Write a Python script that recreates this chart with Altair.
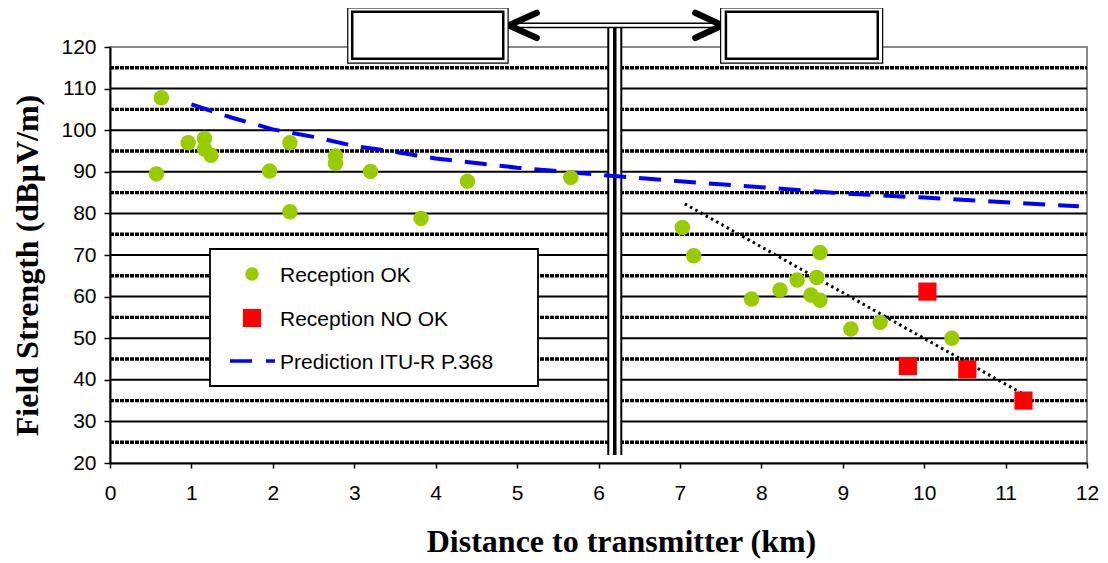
import altair as alt
import pandas as pd

# ---------------- data ----------------
ok_x = [0.57, 0.63, 0.96, 1.16, 1.16, 1.24, 1.96, 2.21, 2.21, 2.77, 2.77, 3.20, 3.82, 4.39, 5.66,
        7.03, 7.17, 7.88, 8.23, 8.44, 8.61, 8.68, 8.72, 8.72, 9.10, 9.46, 10.34]
ok_y = [89.5, 107.8, 97.0, 98.0, 95.5, 94.0, 90.2, 97.0, 80.4, 93.8, 92.0, 90.1, 78.8, 87.7, 88.6,
        76.6, 69.8, 59.4, 61.6, 64.0, 60.4, 64.6, 70.6, 59.1, 52.2, 53.8, 50.0]

nok_x = [9.80, 10.04, 10.53, 11.22]
nok_y = [43.3, 61.2, 42.5, 35.0]

pred_x = [1.0, 1.5, 2.0, 2.5, 3.0, 3.5, 4.0, 5.0, 6.0, 7.0, 8.0, 9.0, 10.0, 11.0, 11.9]
pred_y = [106.2, 103.0, 100.2, 98.4, 96.2, 94.8, 93.2, 91.0, 89.3, 87.7, 86.3, 84.8, 83.8, 82.7, 81.7]

trend_x = [7.06, 11.24]
trend_y = [82.3, 36.3]

y_ticks = [20, 30, 40, 50, 60, 70, 80, 90, 100, 110, 120]
x_ticks = list(range(0, 13))
grid_solid = [30, 40, 50, 60, 70, 80, 90, 100, 110]
grid_dotted = [25, 35, 45, 55, 65, 75, 85, 95, 105, 115]

legend_labels = ["Reception OK", "Reception NO OK", "Prediction ITU-R P.368"]
x_title = "Distance to transmitter (km)"
y_title = "Field Strength (dB\u00b5V/m)"

GREEN = "#99CC00"
RED = "#FF0000"
BLUE = "#0000FF"

W, H = 977, 416

xs = alt.Scale(domain=[0, 12], nice=False, zero=False)
ys = alt.Scale(domain=[20, 120], nice=False, zero=False)

# ---------------- layers ----------------
solid_df = pd.DataFrame({"y": grid_solid})
dotted_df = pd.DataFrame({"y": grid_dotted})

grid1 = alt.Chart(solid_df).mark_rule(color="black", strokeWidth=2).encode(
    y=alt.Y("y:Q", scale=ys), x=alt.value(0), x2=alt.value(W))
grid2 = alt.Chart(dotted_df).mark_rule(color="black", strokeWidth=3.4, strokeDash=[4, 1]).encode(
    y=alt.Y("y:Q", scale=ys), x=alt.value(0), x2=alt.value(W))

# separator (triple vertical line) and arrow decorations, in axis units
sep_df = pd.DataFrame({"x": [6.12, 6.20, 6.28], "w": [2, 3.5, 2], "y": [21.9] * 3, "y2": [124.7] * 3})
sep_bg = alt.Chart(pd.DataFrame({"x": [6.12], "x2": [6.28], "y": [21.9], "y2": [124.7]})).mark_rect(
    fill="white").encode(x=alt.X("x:Q", scale=xs), x2="x2:Q", y=alt.Y("y:Q", scale=ys), y2="y2:Q")
sep = alt.Chart(sep_df).mark_rule(color="black").encode(
    x=alt.X("x:Q", scale=xs), y=alt.Y("y:Q", scale=ys), y2="y2:Q",
    strokeWidth=alt.StrokeWidth("w:Q", scale=None))

arrow_df = pd.DataFrame({"x": [4.92, 4.92], "x2": [7.50, 7.50], "y": [125.7, 124.7]})
arrow_lines = alt.Chart(arrow_df).mark_rule(color="black", strokeWidth=1.6).encode(
    x=alt.X("x:Q", scale=xs), x2="x2:Q", y=alt.Y("y:Q", scale=ys))

chev_df = pd.DataFrame({
    "x": [5.24, 4.90, 5.24, 7.19, 7.52, 7.19],
    "y": [128.2, 125.2, 122.2, 128.2, 125.2, 122.2],
    "side": ["l", "l", "l", "r", "r", "r"],
    "o": [0, 1, 2, 0, 1, 2]})
chevrons = alt.Chart(chev_df).mark_line(color="black", strokeWidth=6.5, strokeCap="round",
                                         strokeJoin="round").encode(
    x=alt.X("x:Q", scale=xs), y=alt.Y("y:Q", scale=ys), detail="side:N", order="o:Q")

box_outer = pd.DataFrame({"x": [2.92, 7.50], "x2": [4.89, 9.49], "y": [129.4, 129.4], "y2": [116.1, 116.1]})
box_inner = pd.DataFrame({"x": [2.975, 7.565], "x2": [4.83, 9.43], "y": [128.5, 128.5], "y2": [117.2, 117.2]})
boxes_o = alt.Chart(box_outer).mark_rect(fill="white", stroke="black", strokeWidth=1.2).encode(
    x=alt.X("x:Q", scale=xs), x2="x2:Q", y=alt.Y("y:Q", scale=ys), y2="y2:Q")
boxes_i = alt.Chart(box_inner).mark_rect(fill="white", stroke="black", strokeWidth=2.5).encode(
    x=alt.X("x:Q", scale=xs), x2="x2:Q", y=alt.Y("y:Q", scale=ys), y2="y2:Q")

pred = alt.Chart(pd.DataFrame({"x": pred_x, "y": pred_y})).mark_line(
    color=BLUE, strokeWidth=4, strokeDash=[22, 13]).encode(
    x=alt.X("x:Q", scale=xs), y=alt.Y("y:Q", scale=ys))

trend = alt.Chart(pd.DataFrame({"x": trend_x, "y": trend_y})).mark_line(
    color="black", strokeWidth=3, strokeDash=[2.5, 3.5]).encode(
    x=alt.X("x:Q", scale=xs), y=alt.Y("y:Q", scale=ys))

ok_pts = alt.Chart(pd.DataFrame({"x": ok_x, "y": ok_y})).mark_point(
    shape="circle", filled=True, opacity=1, color=GREEN, size=240).encode(
    x=alt.X("x:Q", scale=xs, title=x_title, axis=alt.Axis(
        values=x_ticks, format="d", grid=False, tickSize=5, labelPadding=14, domainColor="black",
        domainWidth=2, tickColor="black", tickWidth=1.5, labelFlush=False, labelOverlap=False,
        titleX=511, titleY=78, titleBaseline="middle", titleAlign="center")),
    y=alt.Y("y:Q", scale=ys, title=y_title, axis=alt.Axis(
        values=y_ticks, format="d", grid=False, tickSize=6, labelPadding=8, domainColor="black",
        domainWidth=2, tickColor="black", tickWidth=1.5, labelFlush=False, labelOverlap=False,
        titleX=-83, titleY=218, titleBaseline="middle", titleAlign="center", titleAngle=-90)))

nok_pts = alt.Chart(pd.DataFrame({"x": nok_x, "y": nok_y})).mark_point(
    shape="square", filled=True, opacity=1, color=RED, size=330).encode(
    x=alt.X("x:Q", scale=xs), y=alt.Y("y:Q", scale=ys))

# ---------------- legend (pixel positions inside the plot) ----------------
leg_box = alt.Chart(pd.DataFrame({"a": [0]})).mark_rect(
    fill="white", stroke="black", strokeWidth=1.8).encode(
    x=alt.value(100), x2=alt.value(428), y=alt.value(202), y2=alt.value(339))
leg_sym = alt.Chart(pd.DataFrame({
    "px": [142, 142], "py": [227, 271], "s": ["circle", "square"], "c": [GREEN, RED], "z": [180, 330]
})).mark_point(filled=True, opacity=1).encode(
    x=alt.X("px:Q", scale=None), y=alt.Y("py:Q", scale=None),
    shape=alt.Shape("s:N", scale=None), color=alt.Color("c:N", scale=None),
    size=alt.Size("z:Q", scale=None))
leg_line = alt.Chart(pd.DataFrame({"a": [0]})).mark_rule(
    color=BLUE, strokeWidth=3.5, strokeDash=[22, 14]).encode(
    x=alt.value(120), x2=alt.value(165), y=alt.value(314))
leg_text = alt.Chart(pd.DataFrame({"t": legend_labels, "py": [229, 273, 316]})).mark_text(
    align="left", baseline="middle", font="Liberation Sans", fontSize=21, color="black").encode(
    x=alt.value(170), y=alt.Y("py:Q", scale=None), text="t:N")

chart = alt.layer(
    grid1, grid2, sep_bg, sep, pred, trend, ok_pts, nok_pts,
    arrow_lines, chevrons, boxes_o, boxes_i,
    leg_box, leg_sym, leg_line, leg_text
).properties(
    width=W, height=H,
    autosize=alt.AutoSizeParams(type="none"),
    padding={"left": 102, "top": 39, "right": 13, "bottom": 96},
).configure_view(
    stroke="#8a8a8a", strokeWidth=2
).configure_axis(
    labelFont="Liberation Sans", labelFontSize=21, labelColor="black",
    titleFont="Liberation Serif", titleFontSize=32, titleFontWeight="bold", titleColor="black",
)

chart.save("out.html", embed_options={"renderer": "svg", "actions": False})
